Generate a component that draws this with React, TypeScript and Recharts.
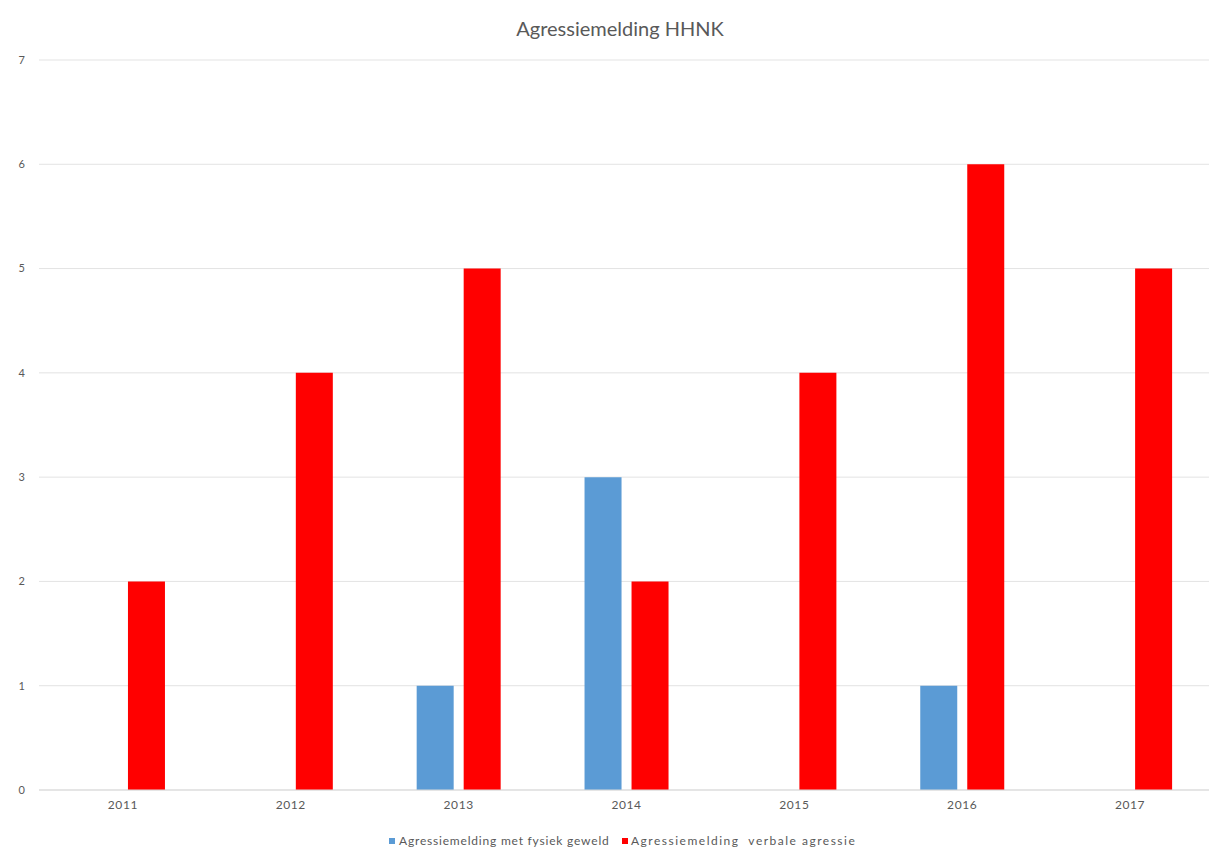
import { BarChart, Bar, XAxis, YAxis, CartesianGrid, Legend } from 'recharts';

const years = ['2011', '2012', '2013', '2014', '2015', '2016', '2017'];
const fysiek = [0, 0, 1, 3, 0, 1, 0];
const verbaal = [2, 4, 5, 2, 4, 6, 5];
const yTicks = [0, 1, 2, 3, 4, 5, 6, 7];

const seriesNames = {
  fysiek: 'Agressiemelding met fysiek geweld',
  verbaal: 'Agressiemelding  verbale agressie',
};

const data = years.map((year, i) => ({
  year,
  fysiek: fysiek[i],
  verbaal: verbaal[i],
}));

const textColor = '#595959';
const font = 'Lato, "Open Sans", sans-serif';

const LegendContent = () => (
  <div style={{ position: 'relative', height: 30, fontFamily: font, fontSize: 12, color: textColor }}>
    <div style={{ position: 'absolute', left: 389, top: 13, display: 'flex', alignItems: 'center', whiteSpace: 'pre', letterSpacing: 0.8 }}>
      <span style={{ width: 6, height: 6, background: '#5B9BD5', marginRight: 4 }} />
      {seriesNames.fysiek}
    </div>
    <div style={{ position: 'absolute', left: 622, top: 13, display: 'flex', alignItems: 'center', whiteSpace: 'pre', letterSpacing: 1.5 }}>
      <span style={{ width: 6, height: 6, background: '#FF0000', marginRight: 3 }} />
      {seriesNames.verbaal}
    </div>
  </div>
);

const App = () => {
  return (
    <div style={{ position: 'absolute', left: 0, top: 0, width: 1209, height: 850, overflow: 'hidden', background: '#fff' }}>
      <div
        style={{
          position: 'absolute',
          left: 0,
          top: 16,
          width: 1240,
          textAlign: 'center',
          fontFamily: font,
          fontSize: 20,
          color: textColor,
        }}
      >
        Agressiemelding HHNK
      </div>
      <BarChart
        width={1214}
        height={850}
        data={data}
        margin={{ top: 60, right: 0, left: 0, bottom: 0 }}
        barCategoryGap="25%"
        barGap={10}
      >
        <CartesianGrid vertical={false} stroke="#e3e3e3" />
        <XAxis
          dataKey="year"
          axisLine={{ stroke: '#d9d9d9' }}
          tickLine={false}
          tickSize={0}
          tickMargin={10}
          height={30}
          tick={{ fill: textColor, fontSize: 12, letterSpacing: 0.6, fontFamily: font }}
        />
        <YAxis
          width={39}
          domain={[0, 7]}
          ticks={yTicks}
          axisLine={false}
          tickLine={false}
          tickSize={0}
          tickMargin={14}
          tick={{ fill: textColor, fontSize: 11, fontFamily: font }}
        />
        <Legend verticalAlign="bottom" height={30} content={<LegendContent />} wrapperStyle={{ left: 0, width: 1214 }} />
        <Bar dataKey="fysiek" name={seriesNames.fysiek} fill="#5B9BD5" isAnimationActive={false} />
        <Bar dataKey="verbaal" name={seriesNames.verbaal} fill="#FF0000" isAnimationActive={false} />
      </BarChart>
    </div>
  );
};

export default App;
